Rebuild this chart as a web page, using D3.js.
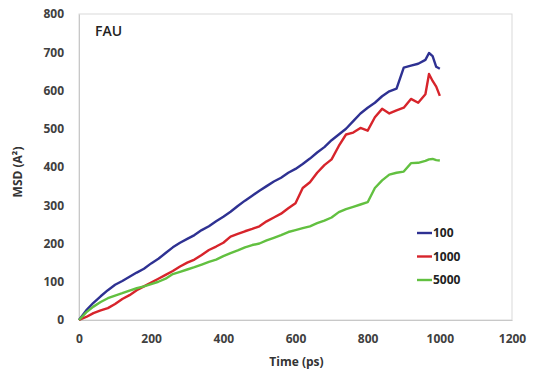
<!DOCTYPE html>
<html>
<head>
<meta charset="utf-8">
<script src="https://cdn.jsdelivr.net/npm/d3@7"></script>
<style>
  body { margin: 0; background: #fff; }
  svg { display: block; font-family: "Open Sans", "Liberation Sans", sans-serif; }
</style>
</head>
<body>
<svg id="chart"></svg>
<script>
// time points (ps)
const times = [0, 20, 40, 60, 80, 100, 120, 140, 160, 180, 200, 220, 240, 260, 280, 300,
  320, 340, 360, 380, 400, 420, 440, 460, 480, 500, 520, 540, 560, 580, 600, 620, 640,
  660, 680, 700, 720, 740, 760, 780, 800, 820, 840, 860, 880, 900, 920, 940, 960, 970,
  980, 990, 1000];

// MSD values per series
const msd100 = [0, 25, 45, 62, 78, 92, 102, 113, 124, 134, 148, 160, 175, 190, 202, 212,
  222, 235, 245, 258, 270, 283, 298, 312, 325, 338, 350, 362, 372, 385, 395, 408, 422,
  438, 452, 470, 485, 500, 520, 540, 555, 568, 585, 598, 605, 660, 665, 670, 680, 698,
  690, 662, 657];
const msd1000 = [0, 8, 18, 25, 31, 42, 55, 65, 78, 88, 98, 108, 118, 128, 140, 150,
  158, 170, 183, 192, 202, 218, 225, 232, 238, 245, 258, 268, 278, 292, 305, 345, 360,
  385, 405, 420, 455, 485, 490, 502, 495, 530, 552, 540, 548, 555, 578, 568, 590, 643,
  625, 610, 586];
const msd5000 = [0, 20, 35, 47, 57, 64, 70, 77, 83, 88, 94, 100, 108, 120, 126, 132,
  138, 145, 152, 158, 167, 175, 182, 190, 196, 200, 208, 215, 222, 230, 235, 240, 245,
  253, 260, 268, 282, 290, 296, 302, 308, 345, 365, 380, 385, 388, 410, 411, 416, 420,
  421, 418, 417];

const seriesNames = ["100", "1000", "5000"];
const seriesColors = ["#2e3192", "#d7242b", "#62c040"];
const xTicks = [0, 200, 400, 600, 800, 1000, 1200];
const yTicks = [0, 100, 200, 300, 400, 500, 600, 700, 800];

const W = 535, H = 372;
const svg = d3.select("#chart")
  .attr("width", W)
  .attr("height", H);

const margin = { top: 14, right: 23, bottom: 52, left: 79 };
const width = W - margin.left - margin.right;
const height = H - margin.top - margin.bottom;

const chart = svg.append("g")
  .attr("transform", `translate(${margin.left},${margin.top})`);

const x = d3.scaleLinear().domain([0, 1200]).range([0, width]);
const y = d3.scaleLinear().domain([0, 800]).range([height, 0]);

// plot frame
chart.append("rect")
  .attr("x", 0).attr("y", 0)
  .attr("width", width).attr("height", height)
  .attr("fill", "none")
  .attr("stroke", "#d9d9d9")
  .attr("stroke-width", 1);

// axes
const xAxis = chart.append("g")
  .attr("transform", `translate(0,${height})`)
  .call(d3.axisBottom(x).tickValues(xTicks).tickFormat(d3.format("d")).tickSize(0).tickPadding(14));
const yAxis = chart.append("g")
  .call(d3.axisLeft(y).tickValues(yTicks).tickFormat(d3.format("d")).tickSize(0).tickPadding(15));

[xAxis, yAxis].forEach(g => {
  g.select(".domain").attr("stroke", "#c8c8c8");
  g.selectAll("text")
    .attr("font-family", "Open Sans, sans-serif")
    .attr("font-size", "12px")
    .attr("font-weight", "bold")
    .attr("fill", "#404040");
});

// series lines
const allSeries = [msd100, msd1000, msd5000];
const line = d3.line()
  .x((d, i) => x(times[i]))
  .y(d => y(d));

chart.selectAll(".series")
  .data(allSeries)
  .join("path")
  .attr("class", "series")
  .attr("d", d => line(d))
  .attr("fill", "none")
  .attr("stroke", (d, i) => seriesColors[i])
  .attr("stroke-width", 2.4)
  .attr("stroke-linejoin", "round");

// panel label
chart.append("text")
  .attr("x", 16)
  .attr("y", 22)
  .attr("font-size", "14px")
  .attr("font-weight", 600)
  .attr("fill", "#222")
  .text("FAU");

// legend
const legend = chart.selectAll(".legend")
  .data(seriesNames)
  .join("g")
  .attr("class", "legend")
  .attr("transform", (d, i) => `translate(${417 - margin.left},${233 - margin.top + i * 23.5})`);

legend.append("line")
  .attr("x1", 0).attr("x2", 15)
  .attr("y1", 0).attr("y2", 0)
  .attr("stroke", (d, i) => seriesColors[i])
  .attr("stroke-width", 2.4);

legend.append("text")
  .attr("x", 16)
  .attr("dy", "0.35em")
  .attr("font-size", "12px")
  .attr("font-weight", "bold")
  .attr("fill", "#222")
  .text(d => d);

// axis titles
svg.append("text")
  .attr("x", margin.left + x(600) + 1)
  .attr("y", 366)
  .attr("text-anchor", "middle")
  .attr("font-size", "12px")
  .attr("font-weight", "bold")
  .attr("fill", "#333")
  .text("Time (ps)");

svg.append("text")
  .attr("transform", `translate(22,172) rotate(-90)`)
  .attr("text-anchor", "middle")
  .attr("font-size", "12px")
  .attr("font-weight", "bold")
  .attr("fill", "#333")
  .text("MSD (A²)");
</script>
</body>
</html>
